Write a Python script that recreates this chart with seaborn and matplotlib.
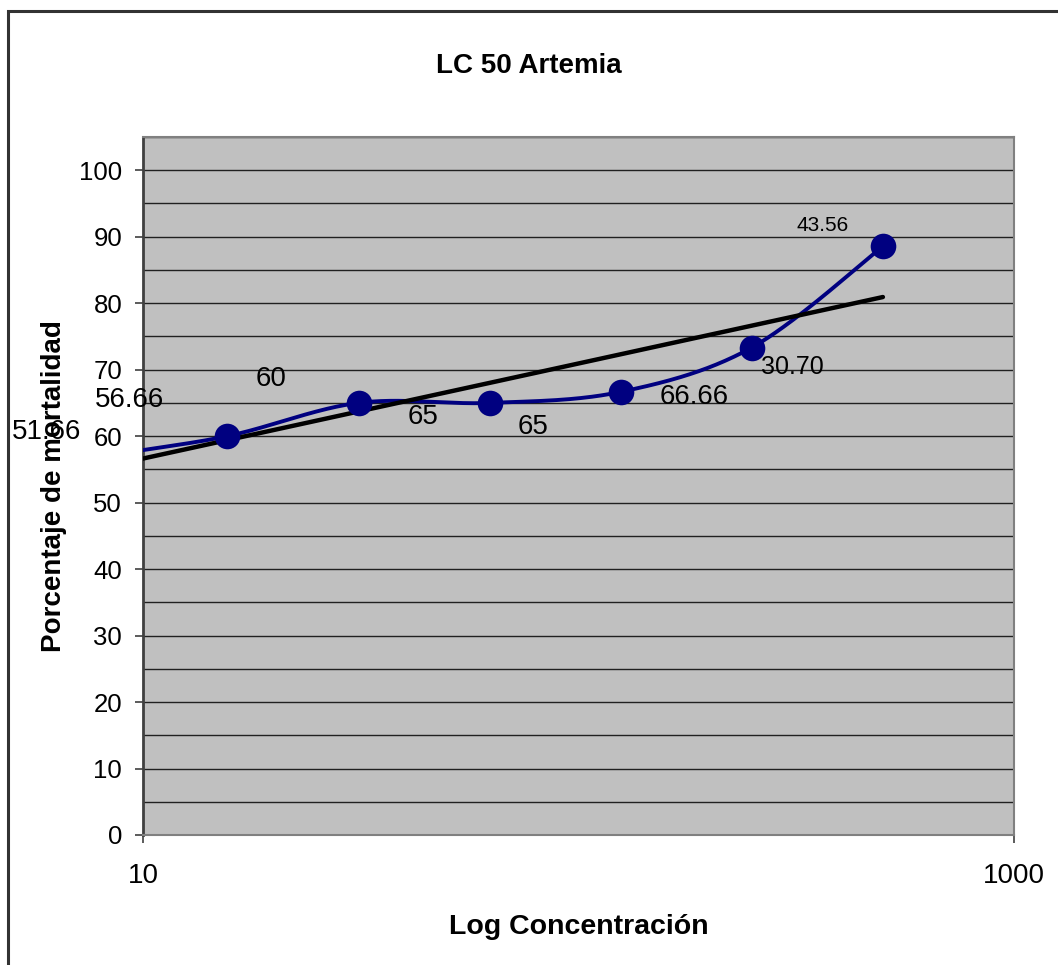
import numpy as np
import pandas as pd
import matplotlib
matplotlib.use("Agg")
import matplotlib.pyplot as plt
from matplotlib.patches import Rectangle
from matplotlib.ticker import FixedLocator, NullLocator, FixedFormatter
import seaborn as sns

# Concentration series (doubling dilutions) and observed mortality (%)
concentracion = [3.90625, 7.8125, 15.625, 31.25, 62.5, 125, 250, 500]
mortalidad = [51.66, 56.66, 60, 65, 65, 66.66, 73.33, 88.56]

# Data label texts and where they sit (data coordinates)
etiquetas = ["51.66", "56.66", "60", "65", "65", "66.66", "30.70", "43.56"]
etiqueta_x = [6.02, 9.33, 19.67, 43.95, 78.6, 184.2, 309.2, 364.2]
etiqueta_y = [60.67, 65.48, 68.64, 62.92, 61.42, 65.93, 70.45, 91.67]
etiqueta_size = [20, 20, 20, 20, 20, 20, 18, 15]

y_ticks = [0, 10, 20, 30, 40, 50, 60, 70, 80, 90, 100]
x_ticks = [10, 1000]
x_ticklabels = ["10", "1000"]

FONT = "Liberation Sans"
NAVY = "#000080"


def smooth_curve(xs, ys, n=60):
    """Cubic Bezier smoothing (Catmull-Rom style) in log-x / y space."""
    P = np.column_stack([np.log10(xs), np.asarray(ys, dtype=float)])
    Pe = np.vstack([P[0], P, P[-1]])
    t = np.linspace(0, 1, n)[:, None]
    segs = []
    for i in range(len(P) - 1):
        p0, p1, p2, p3 = Pe[i], Pe[i + 1], Pe[i + 2], Pe[i + 3]
        c1 = p1 + (p2 - p0) / 6.0
        c2 = p2 - (p3 - p1) / 6.0
        seg = ((1 - t) ** 3) * p1 + 3 * ((1 - t) ** 2) * t * c1 \
            + 3 * (1 - t) * (t ** 2) * c2 + (t ** 3) * p2
        segs.append(seg if i == 0 else seg[1:])
    pts = np.vstack(segs)
    return 10 ** pts[:, 0], pts[:, 1]


sns.set_theme(style="white")
plt.rcParams["font.family"] = [FONT, "DejaVu Sans"]
plt.rcParams["text.color"] = "black"
plt.rcParams["axes.labelcolor"] = "black"

df = pd.DataFrame({"conc": concentracion, "mort": mortalidad})
cx, cy = smooth_curve(concentracion, mortalidad)
curve = pd.DataFrame({"conc": cx, "mort": cy})

fig = plt.figure(figsize=(10.58, 9.65), dpi=100)
W, H = 1058, 965
ax = fig.add_axes([143 / W, 1 - 835 / H, (1014 - 143) / W, (835 - 137) / H])
ax.set_facecolor("#C0C0C0")
ax.set_xscale("log")

# Horizontal gridlines every 5 %
for g in np.arange(0, 106, 5):
    ax.axhline(g, color="#202020", lw=1.0, zorder=1)

# Smoothed series line
sns.lineplot(data=curve, x="conc", y="mort", sort=False, estimator=None,
             color=NAVY, lw=2.8, ax=ax, zorder=3)

# Logarithmic trend line, y ~ log(x)
sns.regplot(data=df, x="conc", y="mort", logx=True, scatter=False, ci=None,
            truncate=True, color="black", line_kws={"lw": 3.2, "zorder": 4},
            ax=ax)

# Markers
sns.scatterplot(data=df, x="conc", y="mort", color=NAVY, s=340,
                edgecolor=NAVY, linewidth=0, ax=ax, zorder=5)

for txt, lx, ly, fs in zip(etiquetas, etiqueta_x, etiqueta_y, etiqueta_size):
    ax.text(lx, ly, txt, fontsize=fs, ha="center", va="center",
            color="black", clip_on=False, zorder=6)

ax.set_xlim(10, 1000)
ax.set_ylim(0, 105)
ax.xaxis.set_major_locator(FixedLocator(x_ticks))
ax.xaxis.set_major_formatter(FixedFormatter(x_ticklabels))
ax.xaxis.set_minor_locator(NullLocator())
ax.set_yticks(y_ticks)
ax.set_yticklabels([str(v) for v in y_ticks])

ax.tick_params(axis="both", which="major", direction="out", length=6,
               width=1.2, color="#404040", labelcolor="black")
ax.tick_params(axis="y", pad=9, labelsize=18.5)
ax.tick_params(axis="x", pad=14, labelsize=20)
ax.tick_params(left=True, bottom=True)

for side in ["top", "right", "bottom"]:
    ax.spines[side].set_color("#808080")
    ax.spines[side].set_linewidth(1.5)
ax.spines["left"].set_color("#404040")
ax.spines["left"].set_linewidth(2.0)

ax.set_xlabel("Log Concentración", fontsize=20.5, fontweight="bold",
              labelpad=18, color="black")
ax.set_ylabel("Porcentaje de mortalidad", fontsize=20, fontweight="bold",
              labelpad=9, color="black")

fig.text(529 / W, 1 - 66 / H, "LC 50 Artemia", fontsize=20, fontweight="bold",
         ha="center", va="center", color="black")

# Chart-area border
fig.patches.append(Rectangle((8 / W, -0.02), 1.05, 1 - 11 / H + 0.02,
                             transform=fig.transFigure, fill=False,
                             edgecolor="#333333", lw=2.2, zorder=0))

fig.savefig("out.png", dpi=100)
